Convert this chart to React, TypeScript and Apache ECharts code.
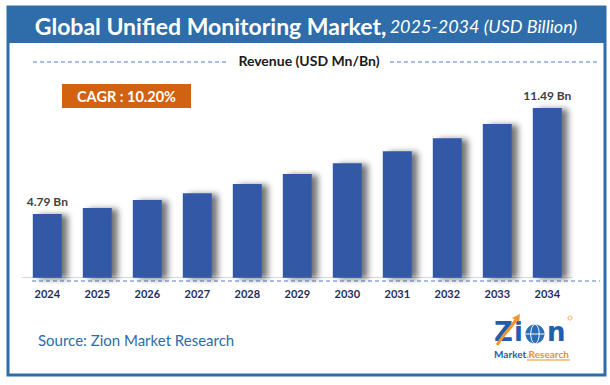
import React, { useEffect, useRef } from "react";
import * as echarts from "echarts";

const years = ["2024", "2025", "2026", "2027", "2028", "2029", "2030", "2031", "2032", "2033", "2034"];
const revenue = [4.79, 5.17, 5.67, 6.1, 6.69, 7.32, 7.99, 8.75, 9.58, 10.48, 11.49];
const labelledIdx = [0, 10];
const titleMain = "Global Unified Monitoring Market,";
const titleSub = "2025-2034 (USD Billion)";
const legendText = "Revenue (USD Mn/Bn)";
const cagrText = "CAGR : 10.20%";
const sourceText = "Source: Zion Market Research";

export default function App() {
  const ref = useRef<HTMLDivElement>(null);
  useEffect(() => {
    if (!ref.current) return;
    const chart = echarts.init(ref.current, null, { renderer: "svg" });
    const blue = "#2E6DA9";
    const dash = "#4F7FC8";
    const logoBlue = "#1F5FAD";
    const logoOrange = "#F0962E";
    const option: any = {
      animation: false,
      backgroundColor: "#ffffff",
      grid: { left: 22.3, right: 37.7, top: 99.9, bottom: 107.3 },
      xAxis: {
        type: "category",
        data: years,
        axisLine: { lineStyle: { color: "#d9d9d9", width: 1 } },
        axisTick: { show: false },
        axisLabel: { color: "#1F2D5A", fontWeight: "bold", fontSize: 11, fontFamily: "Lato", margin: 10 },
      },
      yAxis: {
        type: "value",
        min: 0.76,
        max: 12,
        show: false,
        splitLine: { show: false },
      },
      series: [
        {
          type: "bar",
          barWidth: 29,
          data: revenue.map((v, i) => ({
            value: v,
            label: { show: labelledIdx.includes(i) },
          })),
          itemStyle: {
            color: "#3358A6",
            shadowColor: "rgba(0,0,0,0.55)",
            shadowBlur: 6,
            shadowOffsetX: 6,
            shadowOffsetY: 1,
          },
          label: {
            position: "top",
            distance: 6,
            formatter: "{c} Bn",
            color: "#404040",
            fontWeight: "bold",
            fontSize: 12,
            fontFamily: "Lato",
          },
        },
      ],
      graphic: [
        {
          type: "rect",
          shape: { x: 8, y: 7, width: 597, height: 368 },
          style: { fill: "none", stroke: blue, lineWidth: 3 },
          z: 10,
        },
        {
          type: "rect",
          shape: { x: 8, y: 7, width: 597, height: 36 },
          style: { fill: blue },
          z: 9,
        },
        {
          type: "text",
          x: 306,
          y: 26,
          z: 11,
          style: {
            text: "{b|" + titleMain + "} {i|" + titleSub + "}",
            align: "center",
            verticalAlign: "middle",
            fill: "#ffffff",
            rich: {
              b: { fontSize: 23, fontWeight: "bold", fontFamily: "Lato", fill: "#ffffff" },
              i: { fontSize: 18, fontStyle: "italic", fontFamily: "Lato", fill: "#ffffff" },
            },
          },
        },
        {
          type: "text",
          x: 309,
          y: 60,
          style: {
            text: legendText,
            align: "center",
            verticalAlign: "middle",
            fill: "#1a1a1a",
            fontSize: 14,
            fontWeight: "bold",
            fontFamily: "Lato",
          },
        },
        {
          type: "line",
          shape: { x1: 33, y1: 62, x2: 227, y2: 62 },
          style: { stroke: dash, lineWidth: 1, lineDash: [4, 3] },
        },
        {
          type: "line",
          shape: { x1: 390, y1: 62, x2: 600, y2: 62 },
          style: { stroke: dash, lineWidth: 1, lineDash: [4, 3] },
        },
        {
          type: "rect",
          shape: { x: 62, y: 84, width: 129, height: 24 },
          style: { fill: "#D2620F" },
        },
        {
          type: "text",
          x: 126.5,
          y: 96.5,
          style: {
            text: cagrText,
            align: "center",
            verticalAlign: "middle",
            fill: "#ffffff",
            fontSize: 14.5,
            fontWeight: "bold",
            fontFamily: "Lato",
          },
        },
        {
          type: "line",
          shape: { x1: 32, y1: 281, x2: 600, y2: 281 },
          style: { stroke: dash, lineWidth: 1, lineDash: [4, 3] },
        },
        {
          type: "text",
          x: 38,
          y: 340,
          style: {
            text: sourceText,
            verticalAlign: "middle",
            fill: "#2F6BA9",
            fontSize: 15,
            fontFamily: "Lato",
          },
        },
        {
          type: "group",
          children: [
            {
              type: "text",
              x: 494,
              y: 332,
              style: {
                text: "Z",
                verticalAlign: "middle",
                fill: logoBlue,
                fontSize: 26,
                fontWeight: "bold",
                fontFamily: "DejaVu Sans",
              },
            },
            {
              type: "text",
              x: 514,
              y: 332,
              style: {
                text: "i",
                verticalAlign: "middle",
                fill: logoBlue,
                fontSize: 26,
                fontWeight: "bold",
                fontFamily: "DejaVu Sans",
              },
            },
            {
              type: "circle",
              shape: { cx: 535, cy: 334, r: 9.5 },
              style: { fill: "#2A6DB8" },
            },
            {
              type: "ellipse",
              shape: { cx: 535, cy: 334, rx: 4.2, ry: 9.5 },
              style: { fill: "none", stroke: "#ffffff", lineWidth: 1 },
            },
            {
              type: "line",
              shape: { x1: 525.5, y1: 334, x2: 544.5, y2: 334 },
              style: { stroke: "#ffffff", lineWidth: 1 },
            },
            {
              type: "text",
              x: 547,
              y: 332,
              style: {
                text: "n",
                verticalAlign: "middle",
                fill: logoBlue,
                fontSize: 26,
                fontWeight: "bold",
                fontFamily: "DejaVu Sans",
              },
            },
            {
              type: "polyline",
              shape: { points: [[497, 345], [504, 335], [510, 328], [516, 320]] },
              style: { stroke: logoOrange, lineWidth: 3, fill: "none" },
            },
            {
              type: "polygon",
              shape: { points: [[512, 318], [520, 314], [519, 322]] },
              style: { fill: logoOrange },
            },
            {
              type: "circle",
              shape: { cx: 570, cy: 318, r: 2 },
              style: { fill: "none", stroke: logoOrange, lineWidth: 0.8 },
            },
            {
              type: "text",
              x: 494,
              y: 354,
              style: {
                text: "{m|Market}{r|.Research}",
                verticalAlign: "middle",
                rich: {
                  m: { fontSize: 10, fontWeight: "bold", fontFamily: "Lato", fill: logoBlue },
                  r: { fontSize: 10, fontWeight: "bold", fontFamily: "Lato", fill: "#E8902B" },
                },
              },
            },
            {
              type: "line",
              shape: { x1: 527, y1: 360, x2: 570, y2: 360 },
              style: { stroke: "#E8902B", lineWidth: 1 },
            },
          ],
        },
      ],
    };
    chart.setOption(option);
    return () => chart.dispose();
  }, []);
  return (
    <div
      ref={ref}
      style={{ position: "fixed", left: 0, top: 0, width: 610, height: 385, background: "#fff" }}
    />
  );
}
